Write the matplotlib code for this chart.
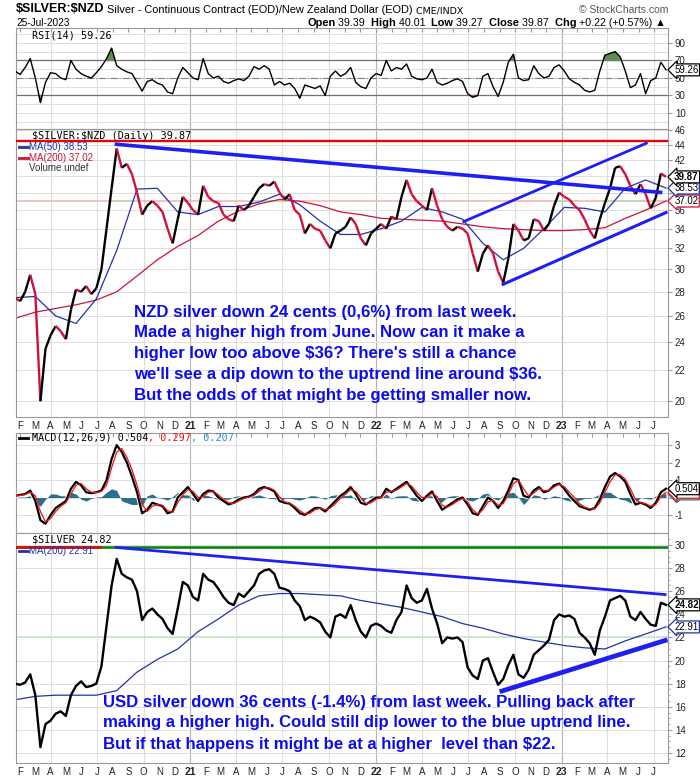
import numpy as np
import pandas as pd
import matplotlib
matplotlib.use("Agg")
import matplotlib.pyplot as plt
import matplotlib.dates as mdates
from matplotlib.collections import LineCollection
from matplotlib.lines import Line2D
from matplotlib.text import Annotation
from matplotlib.transforms import blended_transform_factory

plt.rcParams['font.family'] = ['Liberation Sans', 'DejaVu Sans']

# one reading every 10 days
dates = pd.date_range("2020-01-22", "2023-07-25", freq="10D")
ma_dates = dates[::4]

nzd_close = [27.5, 27.2, 28.0, 29.5, 27.8, 20.0, 23.5, 24.5, 25.2, 24.8,
             24.2, 26.5, 28.2, 28.0, 28.5, 27.8, 28.3, 30.0, 34.0, 38.5,
             43.5, 41.0, 41.5, 40.2, 38.0, 35.5, 36.5, 37.0, 36.5, 35.8,
             34.0, 32.5, 35.0, 37.5, 36.8, 36.0, 35.5, 38.8, 37.5, 37.0,
             36.8, 35.5, 35.0, 34.8, 36.5, 36.0, 36.5, 37.5, 38.5, 39.0,
             38.8, 39.3, 38.0, 37.2, 37.8, 36.0, 35.5, 33.5, 34.5, 34.0,
             33.8, 32.8, 32.0, 33.5, 33.8, 34.2, 35.2, 34.5, 33.0, 32.3,
             33.5, 34.0, 34.5, 34.0, 35.3, 35.0, 37.5, 39.5, 37.8, 37.0,
             36.5, 36.0, 38.5, 36.5, 35.0, 34.2, 33.8, 34.2, 34.0, 33.5,
             31.5, 29.8, 31.5, 32.3, 31.5, 29.8, 28.8, 31.0, 34.5, 33.8,
             32.8, 33.0, 35.0, 34.8, 33.8, 34.5, 36.5, 38.0, 37.5, 37.2,
             36.5, 36.0, 35.0, 33.8, 33.0, 35.0, 36.8, 38.5, 41.0, 41.2,
             40.2, 38.8, 37.8, 39.0, 37.8, 36.2, 37.4, 40.3, 39.87]

rsi14 = [58, 54, 62, 72, 50, 22, 45, 56, 55, 50,
         48, 70, 60, 55, 52, 50, 56, 63, 72, 84,
         64, 60, 57, 55, 45, 35, 46, 48, 44, 42,
         34, 32, 50, 62, 56, 50, 48, 72, 55, 50,
         52, 46, 44, 47, 49, 47, 52, 63, 60, 64,
         60, 42, 46, 42, 44, 38, 27, 42, 40, 38,
         41, 30, 52, 58, 52, 55, 62, 45, 40, 38,
         50, 55, 53, 70, 58, 62, 60, 66, 52, 49,
         48, 50, 60, 45, 42, 44, 47, 49, 46, 32,
         28, 30, 52, 55, 40, 29, 45, 68, 77, 50,
         47, 48, 64, 55, 50, 52, 62, 65, 58, 49,
         45, 42, 36, 34, 36, 58, 76, 78, 80, 74,
         58, 39, 42, 55, 32, 47, 50, 68, 59.26]

macd_line = [0.1, 0.15, 0.2, 0.4, -0.2, -1.3, -1.5, -1.0, -0.6, -0.4,
             -0.2, 0.5, 0.9, 0.7, 0.3, 0.25, 0.3, 0.4, 1.0, 2.2,
             3.0, 2.6, 2.0, 1.2, 0.3, -0.9, -0.7, -0.3, -0.4, -0.5,
             -0.9, -0.8, 0.0, 0.3, 0.6, 0.2, -0.2, 0.2, 0.4, 0.35,
             0.0, -0.2, -0.4, -0.3, -0.1, 0.0, 0.05, 0.2, 0.5, 0.6,
             0.5, 0.35, -0.2, -0.3, -0.35, -0.6, -0.9, -1.0, -0.8, -0.6,
             -0.6, -0.8, -0.5, -0.2, 0.1, 0.3, 0.6, 0.2, -0.3, -0.4,
             -0.2, 0.0, 0.0, 0.5, 0.3, 0.5, 0.7, 0.9, 0.5, 0.1,
             -0.2, 0.1, 0.35, -0.2, -0.7, -0.5, -0.3, -0.1, 0.0, -0.4,
             -0.9, -1.0, -0.5, 0.0, -0.2, -0.6, -0.2, 0.4, 1.1, 1.0,
             0.1, 0.0, 0.4, 0.6, 0.3, 0.4, 0.7, 0.8, 0.5, 0.1,
             -0.2, -0.5, -0.6, -0.7, -0.6, -0.1, 0.6, 1.2, 1.4, 1.2,
             0.9, 0.2, -0.4, -0.3, -0.4, -0.6, -0.3, 0.3, 0.504]

macd_signal = [0.1, 0.12, 0.17, 0.3, 0.1, -0.8, -1.4, -1.2, -0.8, -0.5,
               -0.3, 0.2, 0.7, 0.8, 0.5, 0.3, 0.28, 0.35, 0.7, 1.7,
               2.6, 2.8, 2.3, 1.6, 0.7, -0.4, -0.8, -0.5, -0.4, -0.45,
               -0.75, -0.85, -0.3, 0.15, 0.45, 0.35, 0.0, 0.05, 0.3, 0.35,
               0.15, -0.1, -0.3, -0.35, -0.2, -0.05, 0.02, 0.12, 0.35, 0.55,
               0.55, 0.42, 0.05, -0.25, -0.32, -0.5, -0.75, -0.95, -0.9, -0.7,
               -0.6, -0.7, -0.6, -0.35, -0.05, 0.2, 0.45, 0.35, 0.0, -0.35,
               -0.3, -0.1, 0.0, 0.3, 0.35, 0.42, 0.6, 0.8, 0.65, 0.3,
               0.0, 0.0, 0.25, 0.05, -0.45, -0.55, -0.4, -0.2, -0.05, -0.25,
               -0.7, -0.95, -0.7, -0.25, -0.15, -0.45, -0.35, 0.15, 0.8, 1.0,
               0.5, 0.1, 0.25, 0.5, 0.4, 0.4, 0.6, 0.75, 0.62, 0.3,
               0.0, -0.35, -0.55, -0.65, -0.65, -0.3, 0.3, 0.9, 1.3, 1.3,
               1.05, 0.5, -0.1, -0.3, -0.35, -0.5, -0.4, 0.05, 0.297]

usd_close = [18.0, 17.9, 18.1, 18.8, 17.0, 12.5, 14.5, 14.8, 15.4, 15.6,
             15.2, 17.0, 17.8, 18.2, 17.7, 17.8, 18.0, 19.5, 23.0, 26.5,
             28.8, 27.5, 27.2, 27.0, 26.0, 23.5, 24.2, 24.5, 24.0, 23.6,
             22.8, 22.3, 24.5, 26.8, 26.5, 25.5, 25.2, 27.5, 27.0, 26.8,
             26.2, 25.5, 25.0, 24.8, 25.8, 25.5, 26.0, 26.5, 27.5, 27.8,
             27.9, 27.5, 26.3, 26.2, 26.0, 25.2, 24.7, 23.5, 23.8, 23.6,
             23.3, 22.5, 22.0, 23.8, 24.0, 23.7, 24.8, 23.5, 22.5, 22.0,
             23.0, 23.2, 23.0, 22.6, 22.4, 23.5, 24.2, 26.5, 25.4, 25.0,
             25.2, 26.2, 24.5, 23.2, 21.5, 22.0, 21.9, 22.0, 21.6, 19.4,
             18.7, 18.4, 20.0, 20.2, 19.0, 17.9, 18.4, 19.6, 20.5, 18.8,
             18.5, 19.2, 20.5, 20.9, 21.3, 21.8, 23.5, 24.0, 23.8, 23.9,
             23.6, 22.4, 22.0, 21.5, 20.5, 22.6, 23.8, 25.2, 25.4, 25.6,
             25.2, 23.8, 23.5, 24.2, 23.6, 23.1, 23.0, 25.0, 24.82]

nzd_ma50 = [27.5, 27.6, 26.0, 25.4, 27.4, 31.8, 38.4, 38.5, 35.8, 35.5, 36.4,
            36.4, 36.9, 37.8, 36.6, 34.8, 33.4, 33.4, 34.0, 34.8, 36.3, 35.8,
            35.0, 32.5, 30.9, 32.0, 34.0, 36.3, 36.2, 35.8, 38.5, 39.5, 38.53]
nzd_ma200 = [25.8, 26.3, 26.6, 26.9, 27.3, 28.0, 29.4, 30.9, 32.2, 33.3, 34.8,
             35.9, 36.7, 37.2, 37.0, 36.5, 35.8, 35.5, 35.1, 35.0, 34.9, 34.8,
             34.5, 34.2, 34.0, 33.9, 33.8, 33.8, 33.9, 34.1, 35.1, 36.0, 37.02]
usd_ma200 = [16.6, 16.9, 17.0, 17.0, 17.0, 17.4, 19.0, 20.1, 21.0, 22.5, 23.6,
             24.8, 25.6, 25.8, 25.8, 25.7, 25.6, 25.2, 24.9, 24.6, 24.2, 23.8,
             23.2, 22.8, 22.3, 21.9, 21.6, 21.3, 21.1, 21.0, 21.7, 22.3, 22.91]

# drawn annotations (date, value)
nzd_down = (["2020-08-05", "2023-07-18"], [44.1, 38.0])
nzd_chan_hi = (["2022-06-20", "2023-06-19"], [34.7, 44.3])
nzd_chan_lo = (["2022-09-05", "2023-07-28"], [28.6, 35.8])
nzd_top_level = 44.5
nzd_pink_level = 37.0
nzd_green_spans = [("2020-07-27", "2020-09-18"), ("2021-05-04", "2021-07-16"),
                   ("2022-12-22", "2023-01-30"), ("2023-03-20", "2023-06-23")]
usd_down = (["2020-08-05", "2023-07-26"], [29.8, 25.7])
usd_up = (["2022-09-01", "2023-07-28"], [17.3, 21.8])
usd_top_level = 29.8
usd_red_span = ("2020-01-24", "2020-07-07")
usd_green_level = 22.0

nzd_note = ["NZD silver down 24 cents (0,6%) from last week.",
            "Made a higher high from June. Now can it make a",
            "higher low too above $36? There's still a chance",
            "we'll see a dip down to the uptrend line around $36.",
            "But the odds of that might be getting smaller now."]
usd_note = ["USD silver down 36 cents (-1.4%) from last week. Pulling back after",
            "making a higher high. Could still dip lower to the blue uptrend line.",
            "But if that happens it might be at a higher  level than $22."]

BLUE_NOTE = '#0c0cec'
TREND = '#1f1ff2'
MA_BLUE = '#2233a8'
MA_RED = '#cc1338'
PRICE_RED = '#d0103a'
GRID = '#dedede'
SPINE = '#9a9a9a'

W, H = 700, 780
def fx(px): return px / W
def fy(py): return 1 - py / H

x_left, x_right = pd.Timestamp("2020-01-24"), pd.Timestamp("2023-07-29")
months = pd.date_range("2020-02-01", "2023-07-01", freq="MS")
quarters = [m for m in months if m.month in (1, 4, 7, 10)]
month_labels = [f"{m.year % 100}" if m.month == 1 else "JFMAMJJASOND"[m.month - 1] for m in months]

fig = plt.figure(figsize=(7, 7.8), dpi=100)

def panel(top, bottom):
    return fig.add_axes([fx(16), fy(bottom), fx(668) - fx(16), (bottom - top) / H])

ax_rsi = panel(28, 129)
ax_px = panel(129, 417)
ax_macd = panel(433, 533)
ax_usd = panel(533, 763)

def style(ax, ticks, labels):
    ax.set_xlim(x_left, x_right)
    for s in ax.spines.values():
        s.set_color(SPINE)
        s.set_linewidth(0.8)
    ax.yaxis.tick_right()
    ax.set_yticks(ticks, labels=labels)
    ax.yaxis.set_minor_locator(matplotlib.ticker.NullLocator())
    ax.tick_params(axis='y', labelsize=7, labelcolor='#222222', color=SPINE, length=3, pad=2)
    ax.grid(axis='y', color=GRID, lw=0.7)
    for q in quarters:
        yr = q.month == 1
        ax.axvline(q, color='#b4b4b4' if yr else GRID, lw=0.8, zorder=0)
    ax.set_axisbelow(True)

def month_axis(ax):
    ax.set_xticks(months, labels=month_labels)
    ax.tick_params(axis='x', labelsize=7, labelcolor='#222222', length=0, pad=3)
    for lab, m in zip(ax.get_xticklabels(), months):
        if m.month == 1:
            lab.set_fontweight('bold')
            lab.set_fontsize(7.5)

def no_month_axis(ax):
    ax.set_xticks(months)
    ax.tick_params(axis='x', bottom=False, top=True, direction='in', length=3,
                   color=SPINE, labelbottom=False)

def colored_price(ax, y):
    xn = mdates.date2num(dates)
    yv = np.asarray(y)
    pts = np.column_stack([xn, yv])
    segs = np.stack([pts[:-1], pts[1:]], axis=1)
    cols = np.where(np.diff(yv) < 0, PRICE_RED, 'black')
    ax.add_collection(LineCollection(segs, colors=cols, linewidths=1.7, zorder=3))

def tag(ax, value, text, ec, bold=False, z=10):
    tr = blended_transform_factory(ax.transAxes, ax.transData)
    ax.text(1.0095, value, text, transform=tr, va='center', ha='left', fontsize=7,
            fontweight='bold' if bold else 'normal', clip_on=False, zorder=z,
            bbox=dict(boxstyle='larrow,pad=0.1', fc='white', ec=ec, lw=0.9))

# ---- RSI panel
rsi = np.asarray(rsi14)
style(ax_rsi, [10, 30, 50, 70, 90], ['10', '30', '50', '70', '90'])
ax_rsi.set_yticks([0, 20, 40, 60, 80, 100], minor=True)
ax_rsi.tick_params(axis='y', which='minor', length=0)
ax_rsi.grid(axis='y', which='minor', color=GRID, lw=0.7)
ax_rsi.set_ylim(-8.3, 107.1)
ax_rsi.axhline(70, color='#707070', lw=0.9)
ax_rsi.axhline(30, color='#707070', lw=0.9)
ax_rsi.axhline(50, color='#808080', lw=0.8, ls='-.')
ax_rsi.fill_between(dates, rsi, 70, where=rsi >= 70, interpolate=True, color='#5f8f57', zorder=2)
ax_rsi.fill_between(dates, rsi, 30, where=rsi <= 30, interpolate=True, color='#b56060', zorder=2)
ax_rsi.plot(dates, rsi, color='black', lw=1.0, zorder=3)
no_month_axis(ax_rsi)
tag(ax_rsi, rsi14[-1], f"{rsi14[-1]:.2f}", 'black')

# ---- NZD price panel
ax_px.set_yscale('log')
px_ticks = list(range(20, 47, 2))
style(ax_px, px_ticks, [str(v) for v in px_ticks])
ax_px.set_ylim(19.05, 46.2)
ax_px.axhline(nzd_pink_level, color='#f4b0b0', lw=1.1, zorder=1)
for a, b in nzd_green_spans:
    ax_px.plot([pd.Timestamp(a), pd.Timestamp(b)], [nzd_pink_level] * 2, color='#b8dcb0', lw=1.1, zorder=1)
ax_px.plot(ma_dates, nzd_ma200, color=MA_RED, lw=0.9, zorder=2)
ax_px.plot(ma_dates, nzd_ma50, color=MA_BLUE, lw=0.9, zorder=2)
colored_price(ax_px, nzd_close)
ax_px.axhline(nzd_top_level, color='#ee0000', lw=1.7, zorder=4)
for (d, v), lw in [(nzd_down, 2.6), (nzd_chan_hi, 2.0), (nzd_chan_lo, 2.2)]:
    ax_px.plot(pd.to_datetime(d), v, color=TREND, lw=lw, solid_capstyle='butt', zorder=5)
month_axis(ax_px)
tag(ax_px, nzd_ma200[-1], f"{nzd_ma200[-1]:.2f}", MA_RED)
tag(ax_px, nzd_ma50[-1], f"{nzd_ma50[-1]:.2f}", MA_BLUE)
tag(ax_px, nzd_close[-1], f"{nzd_close[-1]:.2f}", 'black', bold=True)

# ---- MACD panel
ml = np.asarray(macd_line)
ms = np.asarray(macd_signal)
style(ax_macd, [-1, 0, 1, 2, 3], ['-1', '0', '1', '2', '3'])
ax_macd.set_ylim(-2.03, 3.69)
ax_macd.fill_between(dates, ml - ms, 0, color='#2a6f8c', lw=0, zorder=2)
ax_macd.plot(dates, ml, color='white', lw=3.0, zorder=3)
ax_macd.plot(dates, ml, color='black', lw=1.6, zorder=4)
ax_macd.plot(dates, ms, color='#ee1111', lw=0.9, zorder=5)
no_month_axis(ax_macd)
tag(ax_macd, ml[-1] - ms[-1], f"{ml[-1] - ms[-1]:.3f}", '#2a6f8c', z=8)
tag(ax_macd, ms[-1], f"{ms[-1]:.3f}", '#ee1111', z=9)
tag(ax_macd, ml[-1], f"{ml[-1]:.3f}", 'black', z=10)

# ---- USD panel
usd_ticks = list(range(12, 31, 2))
style(ax_usd, usd_ticks, [str(v) for v in usd_ticks])
ax_usd.set_yticks(np.arange(11.5, 31, 0.5), minor=True)
ax_usd.tick_params(axis='y', which='minor', length=1.5, color=SPINE)
ax_usd.set_ylim(11.13, 31.04)
ax_usd.axhline(usd_green_level, color='#c8e4c4', lw=1.1, zorder=1)
ax_usd.plot(ma_dates, usd_ma200, color=MA_BLUE, lw=0.9, zorder=2)
ax_usd.plot(dates, usd_close, color='black', lw=1.7, zorder=3)
ax_usd.axhline(usd_top_level, color='#008000', lw=1.8, zorder=4)
ax_usd.plot(pd.to_datetime(list(usd_red_span)), [usd_top_level] * 2, color='#ee0000', lw=1.8, zorder=4)
for (d, v), lw in [(usd_down, 2.0), (usd_up, 3.4)]:
    ax_usd.plot(pd.to_datetime(d), v, color=TREND, lw=lw, solid_capstyle='butt', zorder=5)
month_axis(ax_usd)
tag(ax_usd, usd_ma200[-1], f"{usd_ma200[-1]:.2f}", MA_BLUE)
tag(ax_usd, usd_close[-1], f"{usd_close[-1]:.2f}", 'black', bold=True)

# ---- notes
for j, line in enumerate(nzd_note):
    fig.text(fx(134), fy(312 + 20.8 * j), line, va='center', ha='left', fontsize=12.05,
             fontweight='bold', color=BLUE_NOTE, parse_math=False)
for j, line in enumerate(usd_note):
    fig.text(fx(103), fy(702 + 21 * j), line, va='center', ha='left', fontsize=12.05,
             fontweight='bold', color=BLUE_NOTE, parse_math=False)

# ---- panel titles and legends
MONO = 'DejaVu Sans Mono'

def chain(x, y, pieces):
    t = fig.text(x, y, pieces[0][0], va='bottom', ha='left', parse_math=False, **pieces[0][1])
    for s, kw in pieces[1:]:
        t = fig.add_artist(Annotation(s, xy=(1, 0), xycoords=t, va='bottom', ha='left',
                                      parse_math=False, **kw))
    return t

fig.text(fx(32), fy(35), "RSI(14) 59.26", family=MONO, fontsize=7.3, va='center', parse_math=False)
fig.text(fx(32), fy(136), "$SILVER:$NZD (Daily) 39.87", family=MONO, fontsize=7.3, va='center', parse_math=False)
for j, (lab, col) in enumerate([("MA(50) 38.53", MA_BLUE), ("MA(200) 37.02", MA_RED), ("Volume undef", None)]):
    yy = 147 + 10.7 * j
    if col:
        fig.add_artist(Line2D([fx(19), fx(28)], [fy(yy)] * 2, color=col, lw=2))
    fig.text(fx(29), fy(yy), lab, fontsize=7, va='center', color=col or '#333333')
fig.add_artist(Line2D([fx(19), fx(28)], [fy(438)] * 2, color='black', lw=2))
chain(fx(32), fy(443), [("MACD(12,26,9) 0.504", dict(family=MONO, fontsize=7.3, color='black')),
                        (", 0.297", dict(family=MONO, fontsize=7.3, color='#ee1111')),
                        (", 0.207", dict(family=MONO, fontsize=7.3, color='#2a90c8'))])
fig.text(fx(32), fy(540), "$SILVER 24.82", family=MONO, fontsize=7.3, va='center', parse_math=False)
fig.add_artist(Line2D([fx(19), fx(28)], [fy(551)] * 2, color=MA_BLUE, lw=2))
fig.text(fx(29), fy(551), "MA(200) 22.91", fontsize=7, va='center', color=MA_BLUE)

# ---- header
chain(fx(16), fy(15), [("$SILVER:$NZD", dict(fontsize=9.0, fontweight='bold')),
                       (" Silver - Continuous Contract (EOD)/New Zealand Dollar (EOD)", dict(fontsize=7.9)),
                       (" CME/INDX", dict(fontsize=6.8, family='DejaVu Sans'))])
fig.text(fx(668), fy(15), "\u00a9 StockCharts.com", fontsize=7.5, color='#555555', ha='right', va='bottom')
fig.text(fx(16), fy(28), "25-Jul-2023", fontsize=7.3, va='bottom')
bold = dict(fontsize=7.9, fontweight='bold')
norm = dict(fontsize=7.7)
chain(fx(307), fy(28), [("Open", bold), (" 39.39 ", norm), (" High", bold), (" 40.01 ", norm),
                        (" Low", bold), (" 39.27 ", norm), (" Close", bold), (" 39.87 ", norm),
                        (" Chg", bold), (" +0.22 (+0.57%) \u25b2", norm)])

fig.savefig("out.png", dpi=100)
